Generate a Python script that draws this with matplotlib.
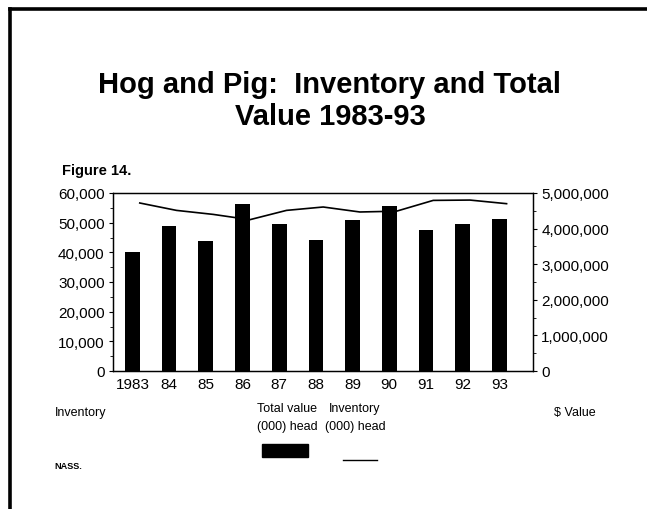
"""Hog and Pig inventory (line, left axis) and total value (bars, right axis), 1983-93."""
import matplotlib
matplotlib.use("Agg")
import matplotlib.pyplot as plt
from matplotlib.lines import Line2D
from matplotlib.patches import Rectangle
from matplotlib.ticker import FuncFormatter, MultipleLocator

plt.rcParams.update({"font.family": ["Liberation Sans", "DejaVu Sans"]})

YEARS = ["1983", "84", "85", "86", "87", "88", "89", "90", "91", "92", "93"]
# inventory, thousand head (left axis)
INVENTORY = [56630, 54140, 52790, 51000, 54140, 55280, 53600, 53870, 57510, 57620, 56400]
# total value, thousand dollars (right axis)
VALUE = [3333000, 4065000, 3643000, 4683000, 4140000, 3681000,
         4243000, 4627000, 3962000, 4121000, 4262000]

W, H = 647, 510
fig = plt.figure(figsize=(W / 100, H / 100), dpi=100)

# slide frame (left and top edges)
fig.add_artist(Line2D([10 / W, 10 / W], [0, 1 - 10 / H], transform=fig.transFigure,
                      color="black", lw=2.6))
fig.add_artist(Line2D([10 / W, 1], [1 - 10 / H, 1 - 10 / H], transform=fig.transFigure,
                      color="black", lw=2.6))

fig.text(0.51, 1 - 85 / H, "Hog and Pig:  Inventory and Total", ha="center", va="center",
         fontsize=21, fontweight="bold")
fig.text(0.51, 1 - 117 / H, "Value 1983-93", ha="center", va="center",
         fontsize=21, fontweight="bold")
fig.text(62 / W, 1 - 171 / H, "Figure 14.", ha="left", va="center",
         fontsize=10.5, fontweight="bold")

ax = fig.add_axes([113 / W, 1 - 372 / H, 420 / W, 178 / H])
ax2 = ax.twinx()

x = list(range(len(YEARS)))
ax2.bar(x, VALUE, width=0.4, color="black", zorder=2)
ax.plot([i + 0.2 for i in x], INVENTORY, color="black", lw=1.2, zorder=3)

ax.set_xlim(-0.53, 10.92)
ax.set_ylim(0, 60000)
ax2.set_ylim(0, 5000000)
ax.set_xticks(x)
ax.set_xticklabels(YEARS)
ax.tick_params(axis="x", length=0, pad=4, labelsize=11)

comma = FuncFormatter(lambda v, _: f"{int(v):,}")
ax.yaxis.set_major_locator(MultipleLocator(10000))
ax.yaxis.set_minor_locator(MultipleLocator(5000))
ax.yaxis.set_major_formatter(comma)
ax2.yaxis.set_major_locator(MultipleLocator(1000000))
ax2.yaxis.set_minor_locator(MultipleLocator(500000))
ax2.yaxis.set_major_formatter(comma)
for a in (ax, ax2):
    a.tick_params(axis="y", which="major", length=3, width=0.8, pad=3, labelsize=11)
    a.tick_params(axis="y", which="minor", length=2, width=0.6)
    for s in a.spines.values():
        s.set_linewidth(0.9)

# bottom labels / legend
fig.text(55 / W, 1 - 413 / H, "Inventory", ha="left", va="center", fontsize=9)
fig.text(575 / W, 1 - 413 / H, "$ Value", ha="center", va="center", fontsize=9)
fig.text(287 / W, 1 - 418 / H, "Total value\n(000) head", ha="center", va="center",
         fontsize=9, linespacing=1.6)
fig.text(355 / W, 1 - 418 / H, "Inventory\n(000) head", ha="center", va="center",
         fontsize=9, linespacing=1.6)
fig.add_artist(Rectangle((262 / W, 1 - 458 / H), 46 / W, 13 / H,
                         transform=fig.transFigure, color="black"))
fig.add_artist(Line2D([343 / W, 377 / W], [1 - 461 / H, 1 - 461 / H],
                      transform=fig.transFigure, color="black", lw=1.0))
fig.text(54 / W, 1 - 467 / H, "NASS.", ha="left", va="center",
         fontsize=6.6, fontweight="bold")

fig.savefig("out.png", dpi=100)
